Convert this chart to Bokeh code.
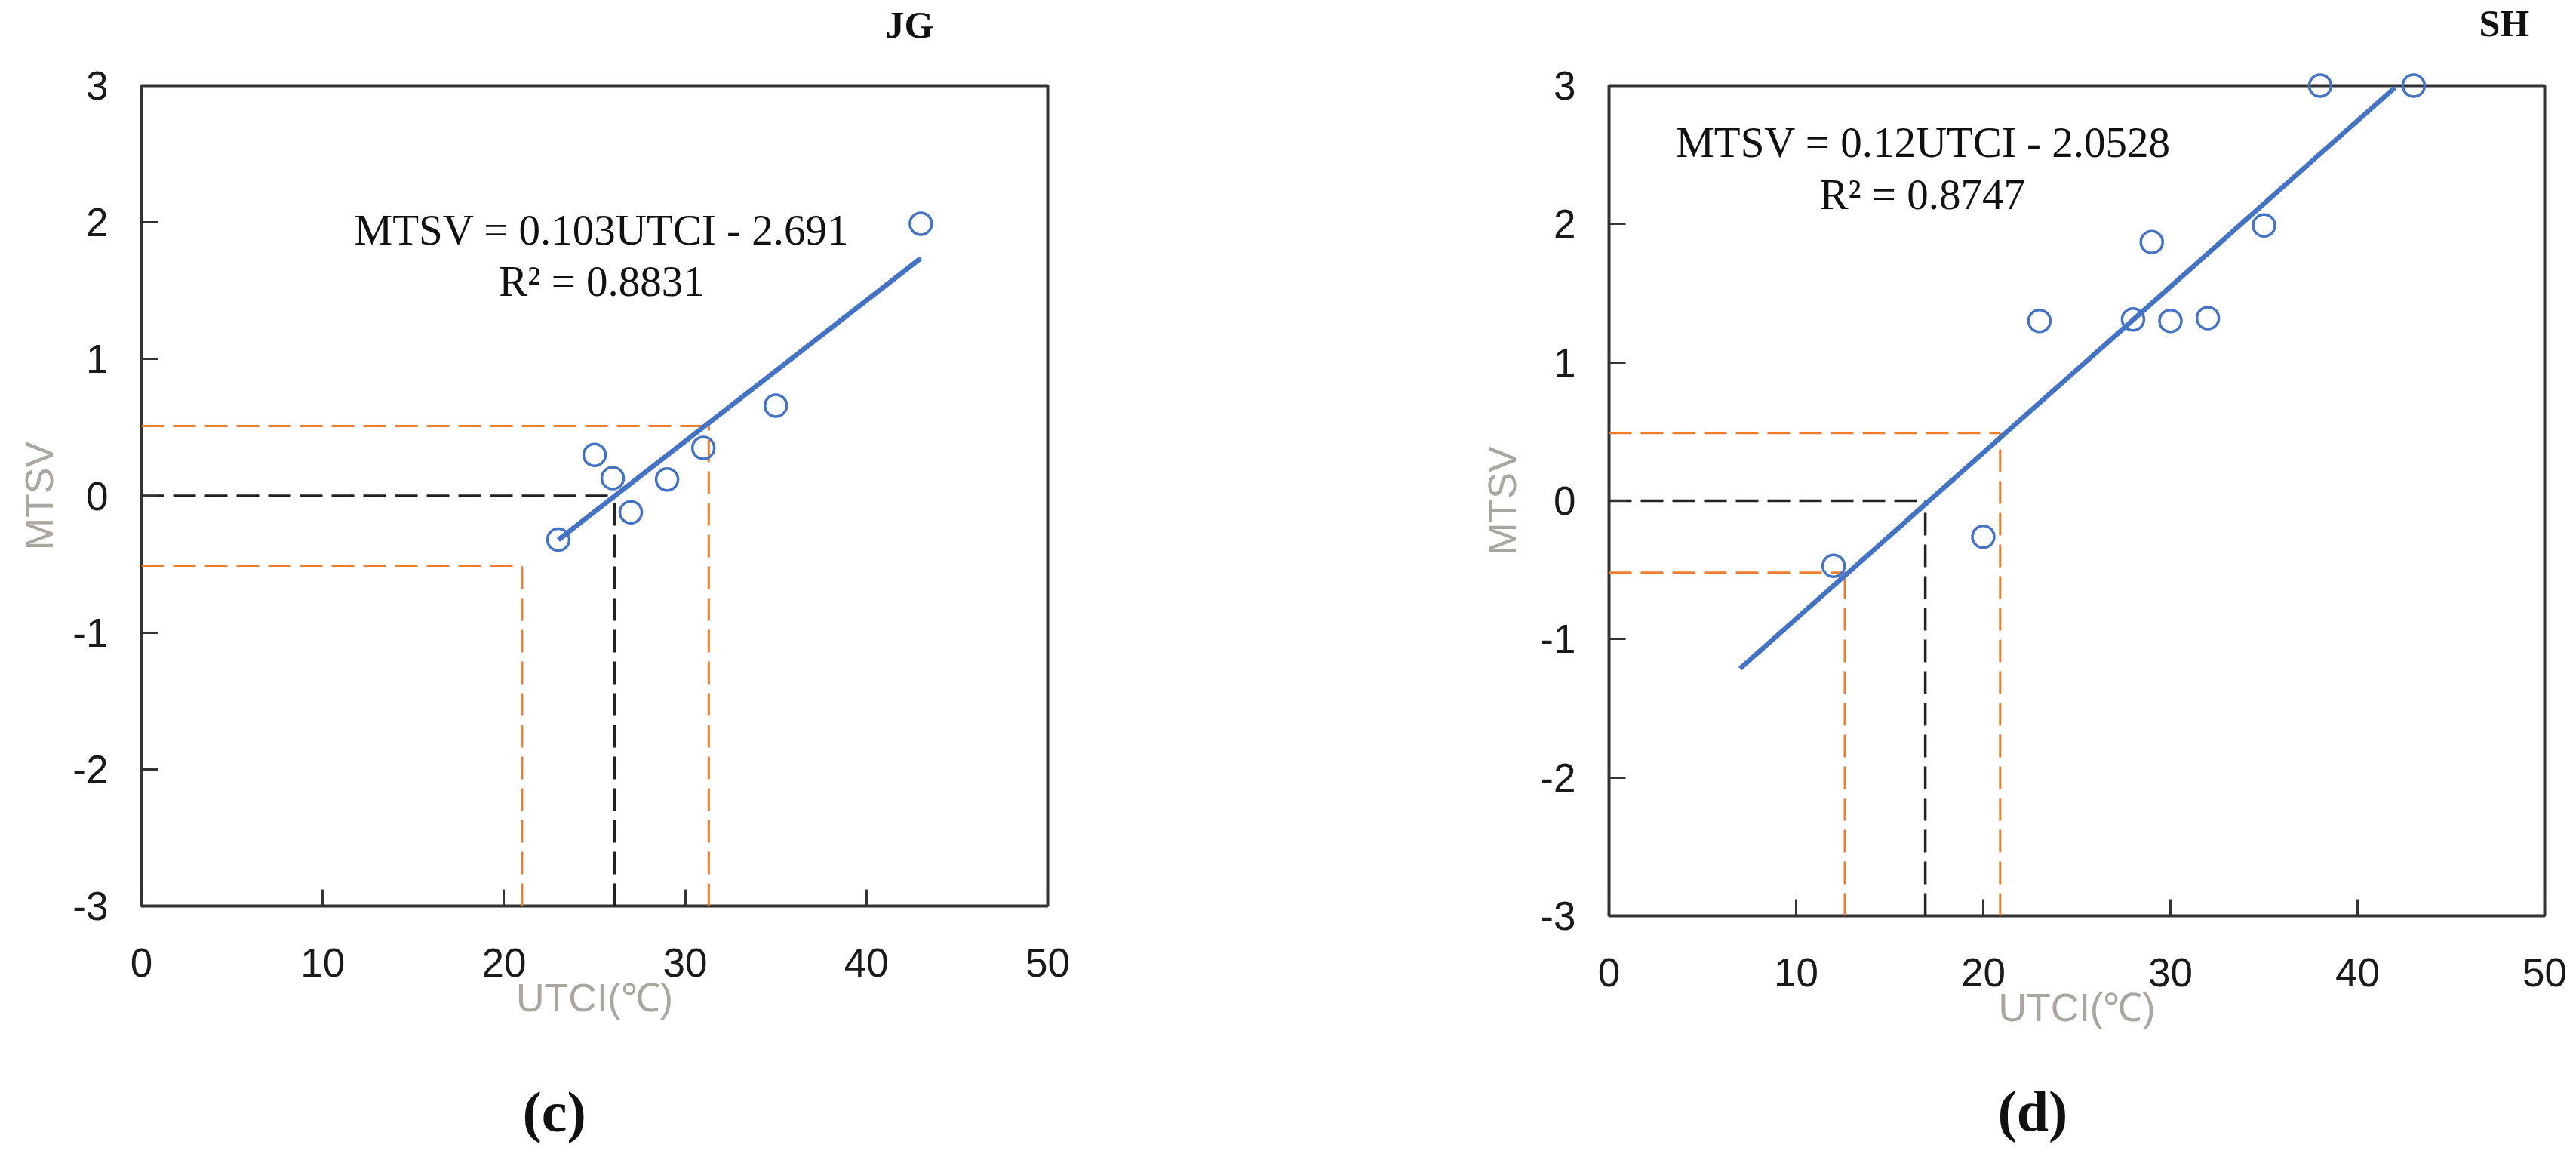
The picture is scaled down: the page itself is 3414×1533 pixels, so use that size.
from bokeh.plotting import figure
from bokeh.models import (Range1d, Label, FixedTicker, ColumnDataSource,
                          CustomJSTickFormatter, Title)
from bokeh.layouts import row
from bokeh.embed import file_html
from bokeh.resources import INLINE

# ---------------- data ----------------
x_ticks = [0, 10, 20, 30, 40, 50]
y_ticks = [-3, -2, -1, 0, 1, 2, 3]

# panel (c) JG
jg_utci = [23, 25, 26, 27, 29, 31, 35, 43]
jg_mtsv = [-0.32, 0.30, 0.13, -0.12, 0.12, 0.35, 0.66, 1.99]
jg_fit_x = [23, 43]
jg_fit_y = [-0.322, 1.738]
jg_orange_level = [0.51, -0.51]
jg_orange_xend = [31.3, 21.0]
jg_black_level = [0.0]
jg_black_xend = [26.1]
jg_equation = "MTSV = 0.103UTCI - 2.691"
jg_r2 = "R\u00b2 = 0.8831"

# panel (d) SH
sh_utci = [12, 20, 23, 28, 29, 30, 32, 35, 38, 43]
sh_mtsv = [-0.47, -0.26, 1.30, 1.31, 1.87, 1.30, 1.32, 1.99, 3.0, 3.0]
sh_fit_x = [7, 42]
sh_fit_y = [-1.213, 2.987]
sh_orange_level = [0.49, -0.52]
sh_orange_xend = [20.9, 12.6]
sh_black_level = [0.0]
sh_black_xend = [16.9]
sh_equation = "MTSV = 0.12UTCI - 2.0528"
sh_r2 = "R\u00b2 = 0.8747"

BLUE = "#4472C4"
ORANGE = "#ED7D31"
DARK = "#333333"
GRAY = "#a9a59f"


def spacer(standoff):
    return Title(text=" ", text_font="Liberation Sans", text_font_size="10px",
                 standoff=standoff, text_color="white")


def build(xs, ys, fx, fy, o_lv, o_xe, b_lv, b_xe, eq, r2, eq_pos, r2_pos,
          title, title_offset, top_gap, letter, letter_offset, bottom_gap,
          mb_left, mb_right, mb_top, mb_bottom, fw, fh, ylab_standoff):
    p = figure(frame_width=fw, frame_height=fh,
               min_border_left=mb_left, min_border_right=mb_right,
               min_border_top=mb_top, min_border_bottom=mb_bottom,
               x_range=Range1d(0, 50), y_range=Range1d(-3, 3),
               output_backend="svg", toolbar_location=None,
               background_fill_color="white", border_fill_color="white")
    p.title = Title(text=title, align="left", offset=title_offset,
                    standoff=0, text_font="Liberation Serif",
                    text_font_size="50px", text_font_style="bold",
                    text_color="#111111")
    p.add_layout(spacer(top_gap), "above")
    p.add_layout(spacer(bottom_gap), "below")
    p.add_layout(Title(text="(" + letter + ")", align="left",
                       offset=letter_offset, standoff=0,
                       text_font="Liberation Serif", text_font_size="76px",
                       text_font_style="bold", text_color="#111111"), "below")
    p.xgrid.visible = False
    p.ygrid.visible = False
    p.outline_line_color = DARK
    p.outline_line_width = 4

    for ax in (p.xaxis[0], p.yaxis[0]):
        ax.axis_line_color = None
        ax.major_tick_in = 22
        ax.major_tick_out = 0
        ax.major_tick_line_color = DARK
        ax.major_tick_line_width = 3
        ax.minor_tick_line_color = None
        ax.major_label_text_font = "Liberation Sans"
        ax.major_label_text_font_size = "53px"
        ax.major_label_text_color = "#1a1a1a"
        ax.axis_label_text_font = "Liberation Sans"
        ax.axis_label_text_font_size = "52px"
        ax.axis_label_text_font_style = "normal"
        ax.axis_label_text_color = GRAY
        ax.formatter = CustomJSTickFormatter(code="return String(tick);")

    p.xaxis.ticker = FixedTicker(ticks=x_ticks)
    p.yaxis.ticker = FixedTicker(ticks=y_ticks)
    p.xaxis.major_label_standoff = 56
    p.yaxis.major_label_standoff = 44
    p.xaxis.axis_label = "UTCI(\u2103)"
    p.yaxis.axis_label = "MTSV"
    p.xaxis.axis_label_standoff = -4
    p.yaxis.axis_label_standoff = ylab_standoff

    # guide lines
    h_src = ColumnDataSource(dict(x0=[0] * len(o_lv), y0=o_lv, x1=o_xe, y1=o_lv))
    v_src = ColumnDataSource(dict(x0=o_xe, y0=[-3] * len(o_lv), x1=o_xe, y1=o_lv))
    for src in (h_src, v_src):
        p.segment(x0="x0", y0="y0", x1="x1", y1="y1", source=src,
                  line_color=ORANGE, line_width=3, line_dash="30 12")
    hb_src = ColumnDataSource(dict(x0=[0] * len(b_lv), y0=b_lv, x1=b_xe, y1=b_lv))
    vb_src = ColumnDataSource(dict(x0=b_xe, y0=[-3] * len(b_lv), x1=b_xe, y1=b_lv))
    for src in (hb_src, vb_src):
        p.segment(x0="x0", y0="y0", x1="x1", y1="y1", source=src,
                  line_color="#222222", line_width=3.5, line_dash="30 12")

    # trend line and points
    p.line(fx, fy, line_color=BLUE, line_width=6.5)
    p.scatter(xs, ys, marker="circle", size=29, fill_color=None,
              line_color=BLUE, line_width=3.5, level="overlay")

    # equation texts
    for txt, (tx, ty) in ((eq, eq_pos), (r2, r2_pos)):
        p.add_layout(Label(x=tx, y=ty, text=txt, text_align="center",
                           text_baseline="middle", text_font="Liberation Serif",
                           text_font_size="57px", text_color="#111111"))
    return p


p1 = build(jg_utci, jg_mtsv, jg_fit_x, jg_fit_y,
           jg_orange_level, jg_orange_xend, jg_black_level, jg_black_xend,
           jg_equation, jg_r2, (25.4, 1.946), (25.4, 1.571),
           "JG", 986, 40, "c", 505, 62,
           187, 312, 111, 330, 1201, 1087, 12)

p2 = build(sh_utci, sh_mtsv, sh_fit_x, sh_fit_y,
           sh_orange_level, sh_orange_xend, sh_black_level, sh_black_xend,
           sh_equation, sh_r2, (16.8, 2.59), (16.74, 2.217),
           "SH", 1153, 42, "d", 515, 48,
           432, 34, 113, 315, 1240, 1100, 18)

layout = row(p1, p2)
open("out.html", "w").write(file_html(layout, INLINE))
